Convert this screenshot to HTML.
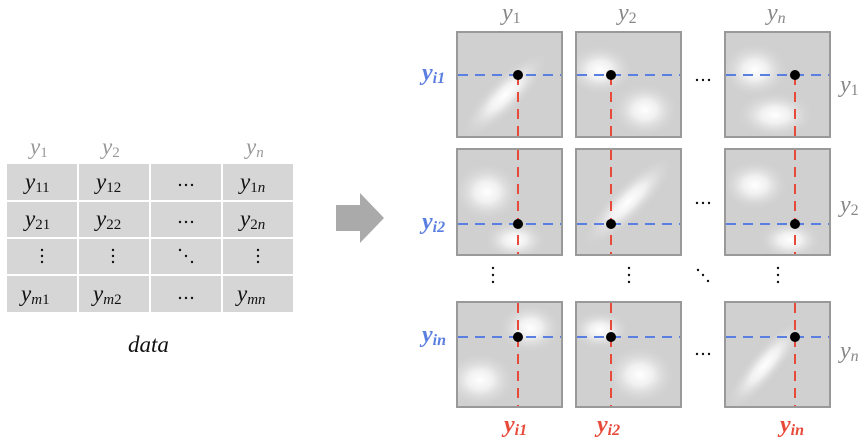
<!DOCTYPE html>
<html><head><style>body{margin:0;background:#fff}</style></head><body>
<svg width="864" height="442" xmlns="http://www.w3.org/2000/svg" font-family="Liberation Serif, serif" font-style="italic">
<defs>
<radialGradient id="g"><stop offset="0" stop-color="#fff"/><stop offset="0.35" stop-color="#f4f4f4" stop-opacity="0.9"/><stop offset="1" stop-color="#d0d0d0" stop-opacity="0"/></radialGradient>
<clipPath id="c">
<rect x="458" y="33" width="103" height="103"/><rect x="577" y="33" width="103" height="103"/><rect x="726" y="33" width="103" height="103"/>
<rect x="458" y="150" width="103" height="104"/><rect x="577" y="150" width="103" height="104"/><rect x="726" y="150" width="103" height="104"/>
<rect x="458" y="303" width="103" height="103"/><rect x="577" y="303" width="103" height="103"/><rect x="726" y="303" width="103" height="103"/>
</clipPath>
</defs>
<g fill="#d6d6d6">
<rect x="7" y="164" width="70" height="36"/><rect x="79" y="164" width="70" height="36"/><rect x="151" y="164" width="70" height="36"/><rect x="223" y="164" width="70" height="36"/>
<rect x="7" y="202" width="70" height="35"/><rect x="79" y="202" width="70" height="35"/><rect x="151" y="202" width="70" height="35"/><rect x="223" y="202" width="70" height="35"/>
<rect x="7" y="239" width="70" height="35"/><rect x="79" y="239" width="70" height="35"/><rect x="151" y="239" width="70" height="35"/><rect x="223" y="239" width="70" height="35"/>
<rect x="7" y="276" width="70" height="36"/><rect x="79" y="276" width="70" height="36"/><rect x="151" y="276" width="70" height="36"/><rect x="223" y="276" width="70" height="36"/>
</g>
<g font-size="23" fill="#999"><text x="30" y="154">y<tspan font-size="15" font-style="normal" dy="3">1</tspan></text><text x="102" y="154">y<tspan font-size="15" font-style="normal" dy="3">2</tspan></text><text x="246" y="154">y<tspan font-size="15" dy="3">n</tspan></text></g>
<g font-size="23" fill="#111">
<text x="25" y="189">y<tspan font-size="15" font-style="normal" dy="3">11</tspan></text>
<text x="96" y="189">y<tspan font-size="15" font-style="normal" dy="3">12</tspan></text>
<text x="240" y="189">y<tspan font-size="15" font-style="normal" dy="3">1</tspan><tspan font-size="15">n</tspan></text>
<text x="25" y="226">y<tspan font-size="15" font-style="normal" dy="3">21</tspan></text>
<text x="96" y="226">y<tspan font-size="15" font-style="normal" dy="3">22</tspan></text>
<text x="240" y="226">y<tspan font-size="15" font-style="normal" dy="3">2</tspan><tspan font-size="15">n</tspan></text>
<text x="21" y="301">y<tspan font-size="15" dy="3">m</tspan><tspan font-size="15" font-style="normal">1</tspan></text>
<text x="93" y="301">y<tspan font-size="15" dy="3">m</tspan><tspan font-size="15" font-style="normal">2</tspan></text>
<text x="237" y="301">y<tspan font-size="15" dy="3">mn</tspan></text>
<text x="128" y="352" font-size="23">data</text>
</g>
<g fill="#111">
<circle cx="180" cy="185" r="1.2"/><circle cx="186" cy="185" r="1.2"/><circle cx="192" cy="185" r="1.2"/>
<circle cx="180" cy="222" r="1.2"/><circle cx="186" cy="222" r="1.2"/><circle cx="192" cy="222" r="1.2"/>
<circle cx="180" cy="298" r="1.2"/><circle cx="186" cy="298" r="1.2"/><circle cx="192" cy="298" r="1.2"/>
<circle cx="42" cy="250" r="1.2"/><circle cx="42" cy="256" r="1.2"/><circle cx="42" cy="262" r="1.2"/>
<circle cx="113" cy="250" r="1.2"/><circle cx="113" cy="256" r="1.2"/><circle cx="113" cy="262" r="1.2"/>
<circle cx="258" cy="250" r="1.2"/><circle cx="258" cy="256" r="1.2"/><circle cx="258" cy="262" r="1.2"/>
<circle cx="180" cy="250" r="1.2"/><circle cx="186" cy="256" r="1.2"/><circle cx="192" cy="262" r="1.2"/>
</g>
<polygon points="336,205 360,205 360,193 384,218 360,243 360,231 336,231" fill="#aaa"/>
<g stroke="#999" stroke-width="2" fill="#d0d0d0">
<rect x="457" y="32" width="105" height="105"/><rect x="576" y="32" width="105" height="105"/><rect x="725" y="32" width="105" height="105"/>
<rect x="457" y="149" width="105" height="106"/><rect x="576" y="149" width="105" height="106"/><rect x="725" y="149" width="105" height="106"/>
<rect x="457" y="302" width="105" height="105"/><rect x="576" y="302" width="105" height="105"/><rect x="725" y="302" width="105" height="105"/>
</g>
<g fill="url(#g)" clip-path="url(#c)">
<ellipse cx="505" cy="95" rx="60" ry="18" transform="rotate(-45 505 95)"/>
<ellipse cx="600" cy="70" rx="34" ry="26"/><ellipse cx="645" cy="110" rx="34" ry="28"/>
<ellipse cx="755" cy="70" rx="34" ry="28"/><ellipse cx="775" cy="115" rx="40" ry="24"/>
<ellipse cx="487" cy="192" rx="34" ry="30"/><ellipse cx="515" cy="240" rx="32" ry="20"/>
<ellipse cx="628" cy="202" rx="64" ry="18" transform="rotate(-45 628 202)"/>
<ellipse cx="755" cy="185" rx="34" ry="26"/><ellipse cx="790" cy="240" rx="32" ry="20"/>
<ellipse cx="530" cy="328" rx="32" ry="26"/><ellipse cx="480" cy="380" rx="36" ry="28"/>
<ellipse cx="600" cy="330" rx="30" ry="20"/><ellipse cx="640" cy="375" rx="36" ry="30"/>
<ellipse cx="765" cy="365" rx="60" ry="16" transform="rotate(-50 765 365)"/>
</g>
<g stroke="#5b7fe0" stroke-width="2" stroke-dasharray="10,7">
<line x1="458" y1="75" x2="561" y2="75"/><line x1="577" y1="75" x2="680" y2="75"/><line x1="726" y1="75" x2="829" y2="75"/>
<line x1="458" y1="224" x2="561" y2="224"/><line x1="577" y1="224" x2="680" y2="224"/><line x1="726" y1="224" x2="829" y2="224"/>
<line x1="458" y1="337" x2="561" y2="337"/><line x1="577" y1="337" x2="680" y2="337"/><line x1="726" y1="337" x2="829" y2="337"/>
</g>
<g stroke="#e84a3a" stroke-width="2" stroke-dasharray="10,7">
<line x1="518" y1="75" x2="518" y2="137"/><line x1="611" y1="75" x2="611" y2="137"/><line x1="795" y1="75" x2="795" y2="137"/>
<line x1="518" y1="150" x2="518" y2="254"/><line x1="611" y1="150" x2="611" y2="254"/><line x1="795" y1="150" x2="795" y2="254"/>
<line x1="518" y1="303" x2="518" y2="406"/><line x1="611" y1="303" x2="611" y2="406"/><line x1="795" y1="303" x2="795" y2="406"/>
</g>
<g fill="#000">
<circle cx="518" cy="75" r="5"/><circle cx="611" cy="75" r="5"/><circle cx="795" cy="75" r="5"/>
<circle cx="518" cy="224" r="5"/><circle cx="611" cy="224" r="5"/><circle cx="795" cy="224" r="5"/>
<circle cx="518" cy="337" r="5"/><circle cx="611" cy="337" r="5"/><circle cx="795" cy="337" r="5"/>
</g>
<g fill="#111">
<circle cx="697" cy="80" r="1.2"/><circle cx="703" cy="80" r="1.2"/><circle cx="709" cy="80" r="1.2"/>
<circle cx="697" cy="203" r="1.2"/><circle cx="703" cy="203" r="1.2"/><circle cx="709" cy="203" r="1.2"/>
<circle cx="697" cy="354" r="1.2"/><circle cx="703" cy="354" r="1.2"/><circle cx="709" cy="354" r="1.2"/>
<circle cx="493" cy="268" r="1.2"/><circle cx="493" cy="275" r="1.2"/><circle cx="493" cy="282" r="1.2"/>
<circle cx="629" cy="268" r="1.2"/><circle cx="629" cy="275" r="1.2"/><circle cx="629" cy="282" r="1.2"/>
<circle cx="778" cy="268" r="1.2"/><circle cx="778" cy="275" r="1.2"/><circle cx="778" cy="282" r="1.2"/>
<circle cx="698" cy="270" r="1.2"/><circle cx="703" cy="275" r="1.2"/><circle cx="708" cy="281" r="1.2"/>
</g>
<g font-size="24" fill="#888">
<text x="502" y="20">y<tspan font-size="16" font-style="normal" dy="3">1</tspan></text>
<text x="618" y="20">y<tspan font-size="16" font-style="normal" dy="3">2</tspan></text>
<text x="767" y="20">y<tspan font-size="16" dy="3">n</tspan></text>
<text x="840" y="92">y<tspan font-size="16" font-style="normal" dy="3">1</tspan></text>
<text x="840" y="212">y<tspan font-size="16" font-style="normal" dy="3">2</tspan></text>
<text x="840" y="358">y<tspan font-size="16" dy="3">n</tspan></text>
</g>
<g font-size="24" fill="#5b7fe0" font-weight="bold">
<text x="422" y="80">y<tspan font-size="16" dy="3">i1</tspan></text>
<text x="422" y="229">y<tspan font-size="16" dy="3">i2</tspan></text>
<text x="422" y="342">y<tspan font-size="16" dy="3">in</tspan></text>
</g>
<g font-size="24" fill="#e84a3a" font-weight="bold">
<text x="504" y="432">y<tspan font-size="16" dy="3">i1</tspan></text>
<text x="597" y="432">y<tspan font-size="16" dy="3">i2</tspan></text>
<text x="780" y="432">y<tspan font-size="16" dy="3">in</tspan></text>
</g>
</svg>
</body></html>
